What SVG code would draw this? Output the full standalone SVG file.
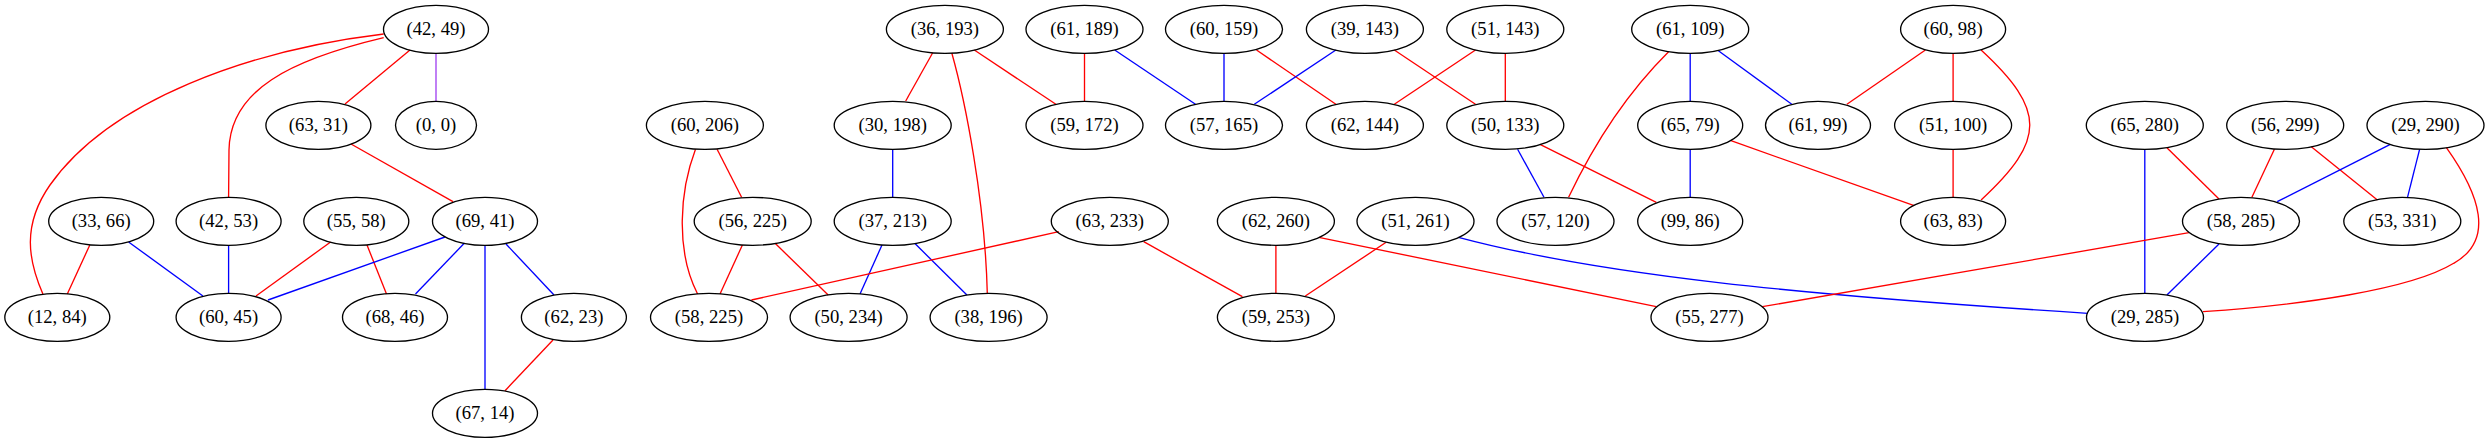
<svg xmlns="http://www.w3.org/2000/svg" width="2489" height="443" viewBox="0 0 2489 443">
<style>
.n ellipse{fill:none;stroke:#000;stroke-width:1.33}
.n text{font-family:"Liberation Serif","Times New Roman",serif;font-size:18.67px;text-anchor:middle;fill:#000}
#edges path{fill:none;stroke-width:1.33}
.r{stroke:#ff0000}
.b{stroke:#0000ff}
.p{stroke:#a040f0}
</style>
<rect width="2489" height="443" fill="#fff"/>
<g id="edges">
<path class="r" d="M383.7,34 C250,50 110,100 50,185 C22,225 28,260 42.9,294"/>
<path class="r" d="M383.7,37.7 C290,60 230,90 229,150 L228.6,197.3"/>
<path class="r" d="M410,50 L345,104"/>
<path class="p" d="M436,53.3 L436,101.3"/>
<path class="r" d="M351,144 L453,201.7"/>
<path class="r" d="M89.8,245 L67.3,294"/>
<path class="b" d="M128.6,242 L202.9,296"/>
<path class="b" d="M228.6,245.3 L228.6,293.3"/>
<path class="r" d="M330.6,242 L256,296"/>
<path class="r" d="M367,245 L386.5,294"/>
<path class="b" d="M445,237 L268,300"/>
<path class="b" d="M464.5,243 L415.5,294"/>
<path class="b" d="M485,245.3 L485,389.3"/>
<path class="b" d="M506,244 L554,295"/>
<path class="r" d="M553,340 L505,390.7"/>
<path class="r" d="M932.7,52.7 L905.7,101"/>
<path class="r" d="M951.8,53 C965,100 985,200 987.3,293.3"/>
<path class="r" d="M974.3,50 L1055.9,104.3"/>
<path class="r" d="M1084.5,53.3 L1084.5,101.3"/>
<path class="b" d="M1114.7,50 L1195.5,104.3"/>
<path class="b" d="M1224,53.3 L1224,101.3"/>
<path class="r" d="M1256.5,50 L1335.9,104.3"/>
<path class="b" d="M1335.9,50 L1254.3,104.3"/>
<path class="r" d="M1394.3,50 L1475.5,104.3"/>
<path class="r" d="M1475.5,50 L1394.3,104.3"/>
<path class="r" d="M1505.3,53.3 L1505.3,101.3"/>
<path class="r" d="M717.1,149.3 L741.6,197.3"/>
<path class="r" d="M695.5,149.3 C680,190 675,250 697.6,294"/>
<path class="r" d="M742.4,245 L720,294"/>
<path class="r" d="M775.1,243.3 L828.2,295"/>
<path class="b" d="M892.7,149.3 L892.7,197.3"/>
<path class="b" d="M882,245 L860,294"/>
<path class="b" d="M914.7,243.3 L966.9,295"/>
<path class="r" d="M1058.8,231.7 L751.4,300"/>
<path class="r" d="M1143.7,241.7 L1242.4,296.7"/>
<path class="r" d="M1275.9,245.3 L1275.9,293.3"/>
<path class="r" d="M1386.1,242.3 L1305.3,296"/>
<path class="r" d="M1318.8,237.3 L1656.3,306.7"/>
<path class="b" d="M1458.4,237.3 C1600,275 1800,295 2087.8,313.3"/>
<path class="b" d="M1517.6,149.3 L1544,197.3"/>
<path class="r" d="M1540,144.3 L1656.3,202.3"/>
<path class="r" d="M1668.6,51.7 Q1610,110 1568.6,197.3"/>
<path class="b" d="M1690.2,53.3 L1690.2,101.3"/>
<path class="b" d="M1718.4,50.7 L1791.8,104.3"/>
<path class="b" d="M1690.2,149.3 L1690.2,197.3"/>
<path class="r" d="M1731,140.7 L1914.2,205.7"/>
<path class="r" d="M1925.4,50 L1846.9,104.3"/>
<path class="r" d="M1953.1,53.3 L1953.1,101.3"/>
<path class="r" d="M1981.1,50 C2046,110 2046,140 1981.1,200"/>
<path class="r" d="M1953.1,149.3 L1953.1,197.3"/>
<path class="b" d="M2144.8,149.3 L2144.8,293.3"/>
<path class="r" d="M2166.9,147.7 L2219,199"/>
<path class="r" d="M2274.4,149.3 L2251.9,197.3"/>
<path class="r" d="M2311.3,146.7 L2377.4,200"/>
<path class="b" d="M2390.3,144.3 L2277.2,201.7"/>
<path class="b" d="M2419.6,149.3 L2407.5,197.3"/>
<path class="r" d="M2446.4,147.7 C2480,195 2495,240 2453.7,263.3 C2410,290 2300,305 2203,311.7"/>
<path class="b" d="M2219,244 L2166.9,295"/>
<path class="r" d="M2189,232.7 L1762.4,306.7"/>
</g>
<g id="n42_49" class="n"><ellipse cx="436" cy="29.3" rx="52.5" ry="24"/><text x="436" y="35.3">(42, 49)</text></g>
<g id="n36_193" class="n"><ellipse cx="944.9" cy="29.3" rx="58.5" ry="24"/><text x="944.9" y="35.3">(36, 193)</text></g>
<g id="n61_189" class="n"><ellipse cx="1084.5" cy="29.3" rx="58.5" ry="24"/><text x="1084.5" y="35.3">(61, 189)</text></g>
<g id="n60_159" class="n"><ellipse cx="1224" cy="29.3" rx="58.5" ry="24"/><text x="1224" y="35.3">(60, 159)</text></g>
<g id="n39_143" class="n"><ellipse cx="1364.9" cy="29.3" rx="58.5" ry="24"/><text x="1364.9" y="35.3">(39, 143)</text></g>
<g id="n51_143" class="n"><ellipse cx="1505.3" cy="29.3" rx="58.5" ry="24"/><text x="1505.3" y="35.3">(51, 143)</text></g>
<g id="n61_109" class="n"><ellipse cx="1690.2" cy="29.3" rx="58.5" ry="24"/><text x="1690.2" y="35.3">(61, 109)</text></g>
<g id="n60_98" class="n"><ellipse cx="1953.1" cy="29.3" rx="52.5" ry="24"/><text x="1953.1" y="35.3">(60, 98)</text></g>
<g id="n63_31" class="n"><ellipse cx="318.4" cy="125.3" rx="52.5" ry="24"/><text x="318.4" y="131.3">(63, 31)</text></g>
<g id="n0_0" class="n"><ellipse cx="436" cy="125.3" rx="40.5" ry="24"/><text x="436" y="131.3">(0, 0)</text></g>
<g id="n60_206" class="n"><ellipse cx="704.9" cy="125.3" rx="58.5" ry="24"/><text x="704.9" y="131.3">(60, 206)</text></g>
<g id="n30_198" class="n"><ellipse cx="892.7" cy="125.3" rx="58.5" ry="24"/><text x="892.7" y="131.3">(30, 198)</text></g>
<g id="n59_172" class="n"><ellipse cx="1084.5" cy="125.3" rx="58.5" ry="24"/><text x="1084.5" y="131.3">(59, 172)</text></g>
<g id="n57_165" class="n"><ellipse cx="1224" cy="125.3" rx="58.5" ry="24"/><text x="1224" y="131.3">(57, 165)</text></g>
<g id="n62_144" class="n"><ellipse cx="1364.9" cy="125.3" rx="58.5" ry="24"/><text x="1364.9" y="131.3">(62, 144)</text></g>
<g id="n50_133" class="n"><ellipse cx="1505.3" cy="125.3" rx="58.5" ry="24"/><text x="1505.3" y="131.3">(50, 133)</text></g>
<g id="n65_79" class="n"><ellipse cx="1690.2" cy="125.3" rx="52.5" ry="24"/><text x="1690.2" y="131.3">(65, 79)</text></g>
<g id="n61_99" class="n"><ellipse cx="1818" cy="125.3" rx="52.5" ry="24"/><text x="1818" y="131.3">(61, 99)</text></g>
<g id="n51_100" class="n"><ellipse cx="1953.1" cy="125.3" rx="58.5" ry="24"/><text x="1953.1" y="131.3">(51, 100)</text></g>
<g id="n65_280" class="n"><ellipse cx="2144.8" cy="125.3" rx="58.5" ry="24"/><text x="2144.8" y="131.3">(65, 280)</text></g>
<g id="n56_299" class="n"><ellipse cx="2285.2" cy="125.3" rx="58.5" ry="24"/><text x="2285.2" y="131.3">(56, 299)</text></g>
<g id="n29_290" class="n"><ellipse cx="2425.5" cy="125.3" rx="58.5" ry="24"/><text x="2425.5" y="131.3">(29, 290)</text></g>
<g id="n33_66" class="n"><ellipse cx="101.2" cy="221.3" rx="52.5" ry="24"/><text x="101.2" y="227.3">(33, 66)</text></g>
<g id="n42_53" class="n"><ellipse cx="228.6" cy="221.3" rx="52.5" ry="24"/><text x="228.6" y="227.3">(42, 53)</text></g>
<g id="n55_58" class="n"><ellipse cx="356.3" cy="221.3" rx="52.5" ry="24"/><text x="356.3" y="227.3">(55, 58)</text></g>
<g id="n69_41" class="n"><ellipse cx="485" cy="221.3" rx="52.5" ry="24"/><text x="485" y="227.3">(69, 41)</text></g>
<g id="n56_225" class="n"><ellipse cx="752.7" cy="221.3" rx="58.5" ry="24"/><text x="752.7" y="227.3">(56, 225)</text></g>
<g id="n37_213" class="n"><ellipse cx="892.7" cy="221.3" rx="58.5" ry="24"/><text x="892.7" y="227.3">(37, 213)</text></g>
<g id="n63_233" class="n"><ellipse cx="1109.8" cy="221.3" rx="58.5" ry="24"/><text x="1109.8" y="227.3">(63, 233)</text></g>
<g id="n62_260" class="n"><ellipse cx="1275.9" cy="221.3" rx="58.5" ry="24"/><text x="1275.9" y="227.3">(62, 260)</text></g>
<g id="n51_261" class="n"><ellipse cx="1415.5" cy="221.3" rx="58.5" ry="24"/><text x="1415.5" y="227.3">(51, 261)</text></g>
<g id="n57_120" class="n"><ellipse cx="1555.5" cy="221.3" rx="58.5" ry="24"/><text x="1555.5" y="227.3">(57, 120)</text></g>
<g id="n99_86" class="n"><ellipse cx="1690.2" cy="221.3" rx="52.5" ry="24"/><text x="1690.2" y="227.3">(99, 86)</text></g>
<g id="n63_83" class="n"><ellipse cx="1953.1" cy="221.3" rx="52.5" ry="24"/><text x="1953.1" y="227.3">(63, 83)</text></g>
<g id="n58_285" class="n"><ellipse cx="2241" cy="221.3" rx="58.5" ry="24"/><text x="2241" y="227.3">(58, 285)</text></g>
<g id="n53_331" class="n"><ellipse cx="2402.3" cy="221.3" rx="58.5" ry="24"/><text x="2402.3" y="227.3">(53, 331)</text></g>
<g id="n12_84" class="n"><ellipse cx="57.3" cy="317.3" rx="52.5" ry="24"/><text x="57.3" y="323.3">(12, 84)</text></g>
<g id="n60_45" class="n"><ellipse cx="228.6" cy="317.3" rx="52.5" ry="24"/><text x="228.6" y="323.3">(60, 45)</text></g>
<g id="n68_46" class="n"><ellipse cx="395" cy="317.3" rx="52.5" ry="24"/><text x="395" y="323.3">(68, 46)</text></g>
<g id="n62_23" class="n"><ellipse cx="573.9" cy="317.3" rx="52.5" ry="24"/><text x="573.9" y="323.3">(62, 23)</text></g>
<g id="n58_225" class="n"><ellipse cx="709" cy="317.3" rx="58.5" ry="24"/><text x="709" y="323.3">(58, 225)</text></g>
<g id="n50_234" class="n"><ellipse cx="848.6" cy="317.3" rx="58.5" ry="24"/><text x="848.6" y="323.3">(50, 234)</text></g>
<g id="n38_196" class="n"><ellipse cx="988.6" cy="317.3" rx="58.5" ry="24"/><text x="988.6" y="323.3">(38, 196)</text></g>
<g id="n59_253" class="n"><ellipse cx="1275.9" cy="317.3" rx="58.5" ry="24"/><text x="1275.9" y="323.3">(59, 253)</text></g>
<g id="n55_277" class="n"><ellipse cx="1709.5" cy="317.3" rx="58.5" ry="24"/><text x="1709.5" y="323.3">(55, 277)</text></g>
<g id="n29_285" class="n"><ellipse cx="2145" cy="317.3" rx="58.5" ry="24"/><text x="2145" y="323.3">(29, 285)</text></g>
<g id="n67_14" class="n"><ellipse cx="485" cy="413.3" rx="52.5" ry="24"/><text x="485" y="419.3">(67, 14)</text></g>
</svg>
